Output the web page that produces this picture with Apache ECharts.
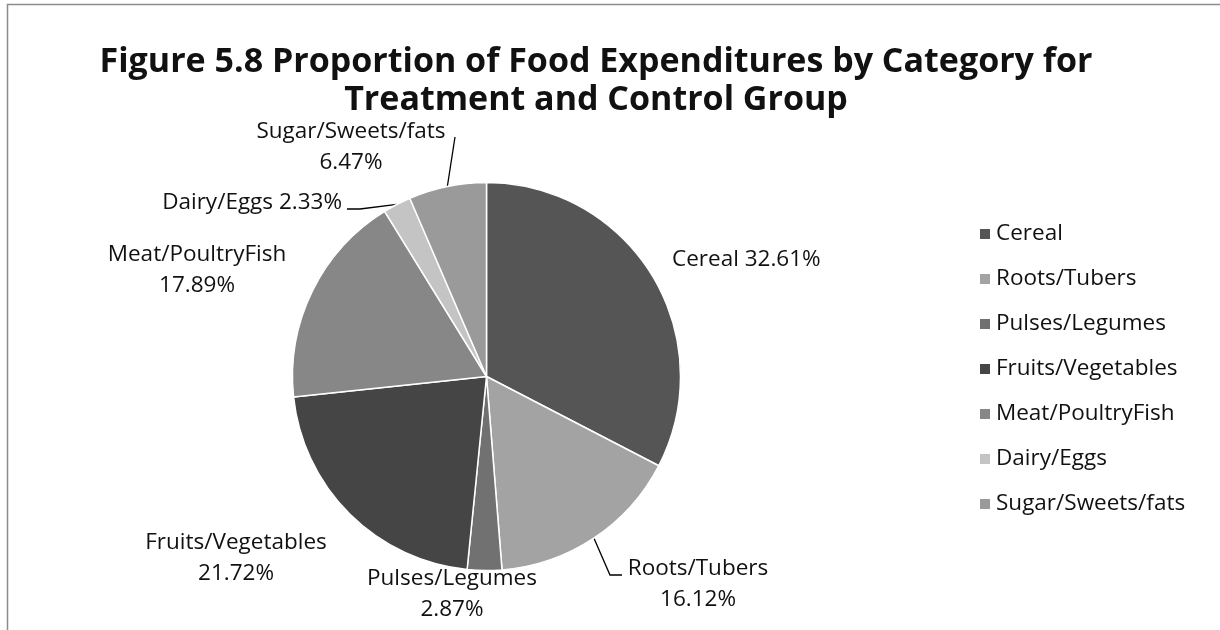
<!DOCTYPE html>
<html>
<head>
<meta charset="utf-8">
<script src="https://cdn.jsdelivr.net/npm/echarts@6/dist/echarts.min.js"></script>
<style>
  html, body { margin: 0; padding: 0; background: #fff; }
  #chart { width: 1220px; height: 630px; }
</style>
</head>
<body>
<div id="chart"></div>
<script>
// Food expenditure shares (%), clockwise from 12 o'clock
const categories = ['Cereal', 'Roots/Tubers', 'Pulses/Legumes', 'Fruits/Vegetables',
                    'Meat/PoultryFish', 'Dairy/Eggs', 'Sugar/Sweets/fats'];
const shares = [32.61, 16.12, 2.87, 21.72, 17.89, 2.33, 6.47];
const sliceColors = ['#555555', '#a3a3a3', '#717171', '#454545', '#878787', '#c4c4c4', '#9a9a9a'];

// Label placement per slice: anchor point, alignment, and leader bend (if any)
const labelPlacement = [
  { x: 672, y: 260, align: 'left',   oneLine: true },
  { x: 698, y: 584, align: 'center', bend: [[610, 575], [622, 575]] },
  { x: 452, y: 594, align: 'center' },
  { x: 236, y: 558, align: 'center' },
  { x: 197, y: 270, align: 'center' },
  { x: 342, y: 203, align: 'right',  oneLine: true, bend: [[360, 209], [347, 209]] },
  { x: 351, y: 147, align: 'center', bend: [[455, 137], [455, 137]] }
];

const FONT = '"Open Sans", "Noto Sans", sans-serif';

const pieData = categories.map((name, i) => ({
  name: name,
  value: shares[i],
  itemStyle: { color: sliceColors[i] },
  labelLine: { show: !!labelPlacement[i].bend }
}));

const chart = echarts.init(document.getElementById('chart'), null, { renderer: 'canvas' });

chart.setOption({
  backgroundColor: '#ffffff',
  animation: false,
  title: {
    text: 'Figure 5.8 Proportion of Food Expenditures by Category for\nTreatment and Control Group',
    left: 591,
    top: 38,
    textAlign: 'center',
    textStyle: {
      fontFamily: FONT,
      fontSize: 34,
      fontWeight: 'bold',
      color: '#111',
      lineHeight: 38
    }
  },
  legend: {
    orient: 'vertical',
    left: 973,
    top: 217,
    icon: 'rect',
    itemWidth: 12,
    itemHeight: 12,
    itemGap: 21,
    textStyle: { fontFamily: FONT, fontSize: 22.5, color: '#111', lineHeight: 24 },
    data: categories
  },
  graphic: [{
    type: 'rect',
    shape: { x: 7.5, y: 4.5, width: 1300, height: 700 },
    style: { fill: 'none', stroke: '#8c8c8c', lineWidth: 1.5 },
    silent: true
  }],
  series: [{
    type: 'pie',
    center: [486.5, 376.5],
    radius: 194,
    startAngle: 90,
    clockwise: true,
    avoidLabelOverlap: false,
    itemStyle: { borderColor: '#ffffff', borderWidth: 1.5 },
    label: {
      show: true,
      position: 'outside',
      fontFamily: FONT,
      fontSize: 22.5,
      color: '#111',
      lineHeight: 31,
      formatter: p => labelPlacement[p.dataIndex].oneLine
        ? p.name + ' ' + p.value.toFixed(2) + '%'
        : p.name + '\n' + p.value.toFixed(2) + '%'
    },
    labelLine: { lineStyle: { color: '#000', width: 1.3 }, length: 10, length2: 10 },
    labelLayout: function (params) {
      const lp = labelPlacement[params.dataIndex];
      const out = { x: lp.x, y: lp.y, align: lp.align, verticalAlign: 'middle' };
      if (lp.bend && params.labelLinePoints) {
        out.labelLinePoints = [params.labelLinePoints[0], lp.bend[0], lp.bend[1]];
      }
      return out;
    },
    emphasis: { disabled: true },
    data: pieData
  }]
});
</script>
</body>
</html>
